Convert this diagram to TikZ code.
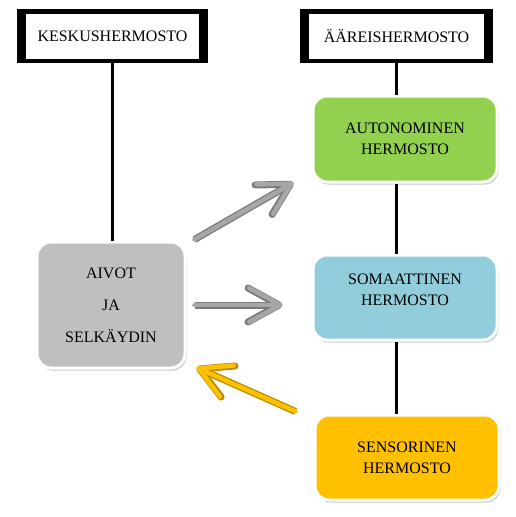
\documentclass[tikz,border=0pt]{standalone}
\usepackage{fontspec}
\setmainfont{Liberation Serif}
\usepackage{tikz}
\usetikzlibrary{positioning,arrows.meta,calc,shadows}
\definecolor{ink}{RGB}{0,0,0}
\definecolor{boxgray}{HTML}{BFBFBF}
\definecolor{boxgreen}{HTML}{92D050}
\definecolor{boxblue}{HTML}{92CDDC}
\definecolor{boxorange}{HTML}{FFC000}
\definecolor{arrowgray}{HTML}{A6A6A6}
\definecolor{arrowedge}{HTML}{7A7A7A}
\definecolor{arrowyellow}{HTML}{FFC000}
\definecolor{yellowedge}{HTML}{B88A00}

\begin{document}
\begin{tikzpicture}[x=1pt, y=-1pt,
  font=\fontsize{16}{21}\selectfont,
  titleframe/.style={draw=ink, fill=white, line width=4.5pt, minimum height=49.5pt, align=center,
    drop shadow={shadow xshift=1pt, shadow yshift=-1.5pt, fill=black!30, opacity=0.6}},
  unit/.style={draw=white, line width=3pt, rounded corners=14pt, minimum width=184pt, minimum height=86pt, align=center,
    drop shadow={shadow xshift=1.5pt, shadow yshift=-2.5pt, fill=black!35, opacity=0.6}},
  link/.style={draw=ink, line width=3pt},
  grayarrow/.style={draw=arrowgray, line width=4.5pt, line cap=round, line join=round,
    -{Straight Barb[length=31pt, width=34pt, line cap=round, line join=round]},
    preaction={draw=arrowedge, line width=7pt}},
  yellowarrow/.style={draw=arrowyellow, line width=4.5pt, line cap=round, line join=round,
    -{Straight Barb[length=31pt, width=34pt, line cap=round, line join=round]},
    preaction={draw=yellowedge, line width=7pt}}]
  \useasboundingbox (0,0) rectangle (516,517);
  \node[titleframe, minimum width=186.5pt] (keskus) at (112.5,36) {KESKUSHERMOSTO};
  \node[titleframe, minimum width=188.5pt] (aareis) at (396.5,36) {ÄÄREISHERMOSTO};
  % heavier sides of the title frames
  \foreach \n in {keskus,aareis} {
    \fill[ink] (\n.south west) rectangle ([xshift=9pt]\n.north west);
    \fill[ink] (\n.south east) rectangle ([xshift=-9pt]\n.north east);
  }
  \node[unit, fill=boxgray, minimum width=148pt, minimum height=126pt] (aivot) at (111,305)
    {AIVOT\\[11pt]JA\\[11pt]SELKÄYDIN};
  \node[unit, fill=boxgreen] (autonom) at (405,139) {AUTONOMINEN\\HERMOSTO};
  \node[unit, fill=boxblue, minimum height=85pt] (somaatt) at (405,297.5) {SOMAATTINEN\\HERMOSTO\\[-6pt]};
  \node[unit, fill=boxorange, minimum height=85pt] (sensor) at (407,457.5) {SENSORINEN\\HERMOSTO};
  % vertical links
  \draw[link] (keskus.south) -- (keskus.south |- aivot.north);
  \draw[link] (aareis.south) -- (aareis.south |- autonom.north);
  \draw[link] (aareis.south |- autonom.south) -- (aareis.south |- somaatt.north);
  \draw[link] (aareis.south |- somaatt.south) -- (aareis.south |- sensor.north);
  % arrows
  \draw[grayarrow] ([shift={(8,-1)}]aivot.north east) -- ([shift={(-18,-1)}]autonom.south west);
  \draw[grayarrow, shorten <=8pt, shorten >=29pt] (aivot.east) -- (aivot.east -| somaatt.west);
  \draw[yellowarrow] ([shift={(-18,-2)}]sensor.north west) -- ([shift={(10,-2)}]aivot.south east);
\end{tikzpicture}
\end{document}
